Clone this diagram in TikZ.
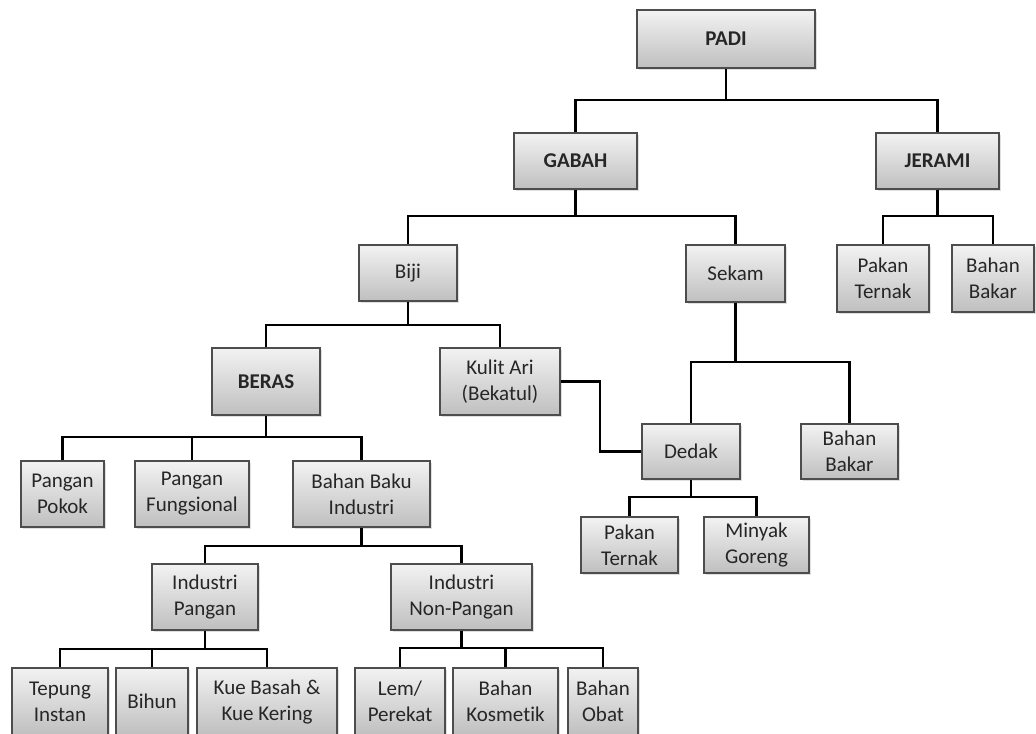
\documentclass[tikz,border=0pt]{standalone}
\usepackage{fontspec}
\setmainfont[Ligatures=NoCommon]{Carlito}
\usetikzlibrary{shadows}
\definecolor{bcol}{RGB}{77,77,77}
\definecolor{tcol}{RGB}{38,38,38}
\tikzset{every picture/.style={x=0.5pt,y=-0.5pt}}
\tikzset{kotak/.style={rectangle,draw=bcol,line width=0.8pt,top color=gray!10,bottom color=gray!50,
drop shadow={opacity=0.25,shadow xshift=1pt,shadow yshift=-1pt},align=center,inner sep=0pt,
text=tcol,font=\fontsize{10.5}{13}\selectfont}}
\tikzset{edge/.style={line width=1.1pt,black}}
\tikzset{utama/.style={font=\fontsize{10.5}{13}\selectfont\bfseries}}

\begin{document}
\begin{tikzpicture}
\useasboundingbox (0,0) rectangle (1036,733);
\node [kotak,utama,minimum width=89pt,minimum height=29pt] (padi) at (726,39) {PADI};
\node [kotak,utama,minimum width=61.5pt,minimum height=28pt] (gabah) at (575.5,161) {GABAH};
\node [kotak,utama,minimum width=61.5pt,minimum height=28pt] (jerami) at (937.5,161) {JERAMI};
\node [kotak,minimum width=46pt,minimum height=33.5pt] (pakan1) at (883,278.5) {Pakan\\Ternak};
\node [kotak,minimum width=41pt,minimum height=33.5pt] (bahan1) at (993,278.5) {Bahan\\Bakar};
\node [kotak,minimum width=49pt,minimum height=28pt] (biji) at (408,273) {Biji};
\node [kotak,minimum width=49.5pt,minimum height=28.5pt] (sekam) at (735.5,273.5) {Sekam};
\node [kotak,utama,minimum width=54pt,minimum height=33.5pt] (beras) at (266,381.5) {BERAS};
\node [kotak,minimum width=60pt,minimum height=33.5pt] (kulit) at (500,381.5) {Kulit Ari\\(Bekatul)};
\node [kotak,minimum width=49pt,minimum height=27.5pt] (dedak) at (691,451.5) {Dedak};
\node [kotak,minimum width=48.5pt,minimum height=27.5pt] (bahan2) at (849.5,451.5) {Bahan\\Bakar};
\node [kotak,minimum width=48.5pt,minimum height=28pt] (pakan2) at (629.5,545) {Pakan\\Ternak};
\node [kotak,minimum width=52.5pt,minimum height=28pt] (minyak) at (756.5,545) {Minyak\\Goreng};
\node [kotak,minimum width=41.5pt,minimum height=33pt] (pokok) at (62.5,494) {Pangan\\Pokok};
\node [kotak,minimum width=57pt,minimum height=33pt] (fungsional) at (192,494) {Pangan\\Fungsional};
\node [kotak,minimum width=68.5pt,minimum height=33pt] (bbi) at (361.5,494) {Bahan Baku\\Industri};
\node [kotak,minimum width=53pt,minimum height=33pt] (indpangan) at (205,597) {Industri\\Pangan};
\node [kotak,minimum width=70.5pt,minimum height=33pt] (indnon) at (461.5,597) {Industri\\Non-Pangan};
\node [kotak,minimum width=48pt,minimum height=33.5pt] (tepung) at (60,701.5) {Tepung\\Instan};
\node [kotak,minimum width=36pt,minimum height=33.5pt] (bihun) at (152,701.5) {Bihun};
\node [kotak,minimum width=70pt,minimum height=33.5pt] (kue) at (267,701.5) {Kue Basah \&\\Kue Kering};
\node [kotak,minimum width=45pt,minimum height=33.5pt] (lem) at (400,701.5) {Lem/\\Perekat};
\node [kotak,minimum width=52.5pt,minimum height=33.5pt] (kosmetik) at (505.5,701.5) {Bahan\\Kosmetik};
\node [kotak,minimum width=35pt,minimum height=33.5pt] (obat) at (603,701.5) {Bahan\\Obat};

% titik cabang
\coordinate (j0) at (726,100);
\coordinate (j1) at (575.5,216);
\coordinate (j2) at (937.5,216);
\coordinate (j3) at (408,325);
\coordinate (j4) at (735.5,362);
\coordinate (j5) at (691,497);
\coordinate (j6) at (266,437);
\coordinate (j7) at (361.5,546);
\coordinate (j8) at (205,649);
\coordinate (j9) at (461.5,648);
\coordinate (jk) at (600,381.5);

\draw [edge] (padi) -- (j0);
\draw [edge] (j0) -| (gabah);
\draw [edge] (j0) -| (jerami);
\draw [edge] (gabah) -- (j1);
\draw [edge] (j1) -| (biji);
\draw [edge] (j1) -| (sekam);
\draw [edge] (jerami) -- (j2);
\draw [edge] (j2) -| (pakan1);
\draw [edge] (j2) -| (bahan1);
\draw [edge] (biji) -- (j3);
\draw [edge] (j3) -| (beras);
\draw [edge] (j3) -| (kulit);
\draw [edge] (sekam) -- (j4);
\draw [edge] (j4) -| (dedak);
\draw [edge] (j4) -| (bahan2);
\draw [edge] (kulit) -- (jk) |- (dedak);
\draw [edge] (dedak) -- (j5);
\draw [edge] (j5) -| (pakan2);
\draw [edge] (j5) -| (minyak);
\draw [edge] (beras) -- (j6);
\draw [edge] (j6) -| (pokok);
\draw [edge] (j6) -| (fungsional);
\draw [edge] (j6) -| (bbi);
\draw [edge] (bbi) -- (j7);
\draw [edge] (j7) -| (indpangan);
\draw [edge] (j7) -| (indnon);
\draw [edge] (indpangan) -- (j8);
\draw [edge] (j8) -| (tepung);
\draw [edge] (j8) -| (bihun);
\draw [edge] (j8) -| (kue);
\draw [edge] (indnon) -- (j9);
\draw [edge] (j9) -| (lem);
\draw [edge] (j9) -| (kosmetik);
\draw [edge] (j9) -| (obat);
\end{tikzpicture}
\end{document}
